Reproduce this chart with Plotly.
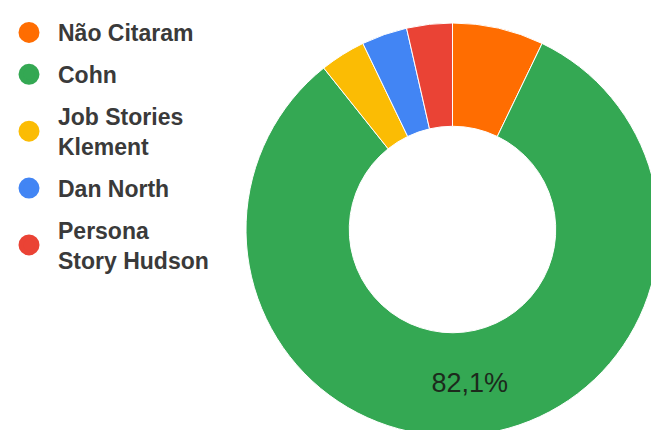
import plotly.graph_objects as go

categories = ["Não Citaram", "Cohn", "Job Stories<br>Klement", "Dan North", "Persona<br>Story Hudson"]
counts = [2, 23, 1, 1, 1]
colors = ["#FF6D01", "#34A853", "#FBBC04", "#4285F4", "#EA4335"]

total = sum(counts)
labels_txt = [("%.1f%%" % (100.0 * c / total)).replace(".", ",") if c / total > 0.10 else "" for c in counts]

W, H = 660, 440
cx, cy, R = 452.5, 229.5, 206.5

fig = go.Figure()
fig.add_trace(go.Pie(
    labels=categories, values=counts, text=labels_txt, textinfo="text",
    textposition="inside", insidetextorientation="horizontal",
    textfont=dict(family="Liberation Sans, Arial", size=27, color="#1c2a1c"),
    marker=dict(colors=colors, line=dict(color="white", width=1)),
    hole=0.5, sort=False, direction="clockwise", rotation=0,
    showlegend=False, hoverinfo="label+percent",
    domain=dict(x=[(cx - R) / W, (cx + R) / W], y=[1 - (cy + R) / H, 1 - (cy - R) / H]),
))
for name, col in zip(categories, colors):
    fig.add_trace(go.Scatter(
        x=[None], y=[None], mode="markers", name=name, legendgroup=name,
        marker=dict(color=col, size=16, line=dict(color=col, width=6)),
    ))

fig.update_layout(
    width=W, height=H,
    margin=dict(l=0, r=0, t=0, b=0, autoexpand=False),
    paper_bgcolor="white", plot_bgcolor="white",
    xaxis=dict(visible=False), yaxis=dict(visible=False),
    font=dict(family="Liberation Sans, Arial", color="#333333"),
    legend=dict(
        xref="container", yref="container", x=0, y=1 - 11 / H,
        xanchor="left", yanchor="top",
        font=dict(size=23, color="#3a3a3a", weight="bold"),
        tracegroupgap=9, itemwidth=48, bgcolor="rgba(0,0,0,0)",
        maxheight=420,
    ),
)

fig.write_html("out.html", post_script="document.body.style.overflow='hidden';document.documentElement.style.overflow='hidden';")
